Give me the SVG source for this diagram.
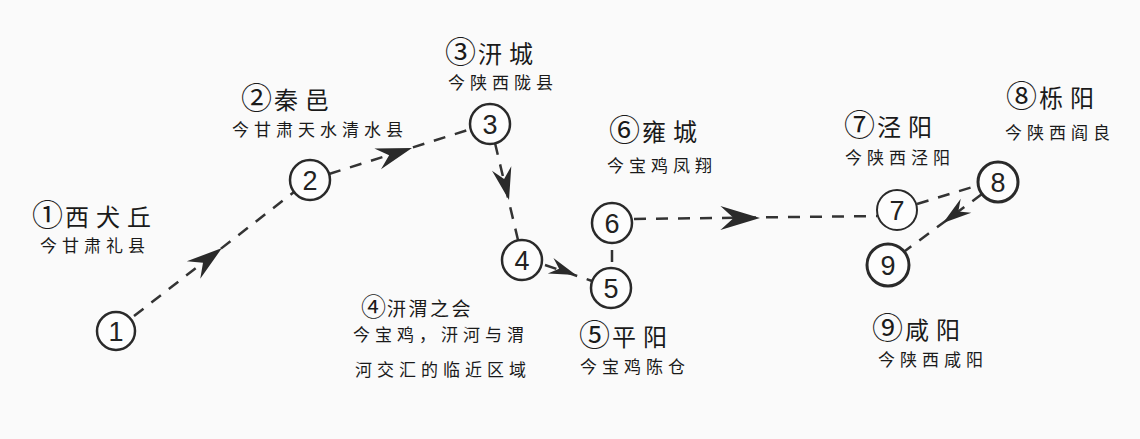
<svg xmlns="http://www.w3.org/2000/svg" xmlns:xlink="http://www.w3.org/1999/xlink" width="1140" height="439" viewBox="0 0 1140 439">
<style>
.bg{fill:#fafafa}
.node circle{fill:#fdfdfd;stroke:#2a2a2a;stroke-width:2.5}
.num{font-family:"Liberation Sans","DejaVu Sans",sans-serif;font-size:27px;fill:#222;text-anchor:middle;dominant-baseline:central}
.title{font-family:"Noto Sans CJK SC",sans-serif;font-size:24px;letter-spacing:7px;fill:#1a1a1a}
.title4{font-family:"Noto Sans CJK SC",sans-serif;font-size:19px;letter-spacing:2.5px;fill:#1a1a1a}
.cd{font-size:31px;letter-spacing:2px}
.cd4{font-size:25px;letter-spacing:1px}
.sub{font-family:"Noto Sans CJK SC",sans-serif;font-size:17px;letter-spacing:5px;fill:#1a1a1a}
.dash{fill:none;stroke:#333;stroke-width:2.5;stroke-dasharray:12 10}
.ah{fill:#2a2a2a}
</style>
<defs>
<path id="ah" d="M0,0 L-36,-11 L-24,0 L-36,11 Z"/>
</defs>
<rect class="bg" x="0" y="0" width="1140" height="439"/>
<g id="connectors">
<line class="dash" x1="134" y1="316" x2="294" y2="192"/>
<use class="ah" xlink:href="#ah" transform="translate(222,248) rotate(-37.7)"/>
<line class="dash" x1="329" y1="174" x2="471" y2="129"/>
<use class="ah" xlink:href="#ah" transform="translate(412,148) rotate(-17.6)"/>
<line class="dash" x1="495" y1="143" x2="518" y2="240"/>
<use class="ah" xlink:href="#ah" transform="translate(509,200) rotate(76.9) scale(0.9)"/>
<line class="dash" x1="545" y1="265" x2="592" y2="281"/>
<use class="ah" xlink:href="#ah" transform="translate(576,275) rotate(20) scale(0.75)"/>
<line class="dash" x1="612" y1="250" x2="612" y2="262" style="stroke-dasharray:none"/>
<line class="dash" x1="634" y1="219" x2="877" y2="216"/>
<use class="ah" xlink:href="#ah" transform="translate(760,218) rotate(0) scale(1.1)"/>
<line class="dash" x1="917" y1="204" x2="979" y2="185"/>
<line class="dash" x1="982" y1="194" x2="905" y2="251"/>
<use class="ah" xlink:href="#ah" transform="translate(943,223) rotate(143) scale(0.8)"/>
</g>
<g id="node1" class="node"><circle cx="116" cy="331" r="19"/><text class="num" x="116" y="332">1</text></g>
<g id="node2" class="node"><circle cx="310" cy="180" r="20"/><text class="num" x="310" y="181">2</text></g>
<g id="node3" class="node"><circle cx="490" cy="124" r="20"/><text class="num" x="490" y="125">3</text></g>
<g id="node4" class="node"><circle cx="522" cy="260" r="20"/><text class="num" x="522" y="261">4</text></g>
<g id="node5" class="node"><circle cx="611" cy="288" r="20"/><text class="num" x="611" y="289">5</text></g>
<g id="node6" class="node"><circle cx="612" cy="223" r="20"/><text class="num" x="612" y="224">6</text></g>
<g id="node7" class="node"><circle cx="897" cy="210" r="20" style="stroke-width:2"/><text class="num" x="897" y="211">7</text></g>
<g id="node8" class="node"><circle cx="998" cy="182" r="20" style="stroke-width:3"/><text class="num" x="998" y="183">8</text></g>
<g id="node9" class="node"><circle cx="888" cy="265" r="21" style="stroke-width:3"/><text class="num" x="888" y="266">9</text></g>
<g id="label1"><text class="title" x="32" y="226"><tspan class="cd">①</tspan>西犬丘</text><text class="sub" x="40" y="252">今甘肃礼县</text></g>
<g id="label2"><text class="title" x="241" y="109"><tspan class="cd">②</tspan>秦邑</text><text class="sub" x="232" y="136">今甘肃天水清水县</text></g>
<g id="label3"><text class="title" x="445" y="63"><tspan class="cd">③</tspan>汧城</text><text class="sub" x="448" y="89">今陕西陇县</text></g>
<g id="label4"><text class="title4" x="361" y="316"><tspan class="cd4">④</tspan>汧渭之会</text><text class="sub" x="353" y="341">今宝鸡，汧河与渭</text><text class="sub" x="355" y="376">河交汇的临近区域</text></g>
<g id="label5"><text class="title" x="579" y="346"><tspan class="cd">⑤</tspan>平阳</text><text class="sub" x="580" y="373">今宝鸡陈仓</text></g>
<g id="label6"><text class="title" x="609" y="141"><tspan class="cd">⑥</tspan>雍城</text><text class="sub" x="607" y="172">今宝鸡凤翔</text></g>
<g id="label7"><text class="title" x="844" y="136"><tspan class="cd">⑦</tspan>泾阳</text><text class="sub" x="845" y="164">今陕西泾阳</text></g>
<g id="label8"><text class="title" x="1006" y="107"><tspan class="cd">⑧</tspan>栎阳</text><text class="sub" x="1005" y="139">今陕西阎良</text></g>
<g id="label9"><text class="title" x="872" y="339"><tspan class="cd">⑨</tspan>咸阳</text><text class="sub" x="878" y="366">今陕西咸阳</text></g>
</svg>
